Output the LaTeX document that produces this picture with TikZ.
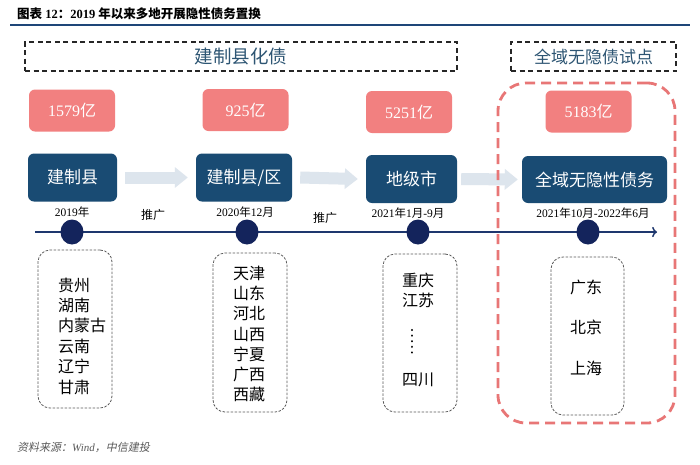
\documentclass[tikz,border=0pt]{standalone}
\usepackage{fontspec}
\setmainfont{Liberation Serif}
\newfontfamily\cjk{Noto Sans CJK SC}
\newfontfamily\cjkslant[FakeSlant=0.2]{Noto Sans CJK SC}
\usepackage{xcolor}
\usetikzlibrary{shapes.geometric,arrows.meta}

\definecolor{stageblue}{RGB}{25,75,115}
\definecolor{salmon}{RGB}{242,128,128}
\definecolor{pilotred}{RGB}{232,118,118}
\definecolor{dotnavy}{RGB}{20,36,92}
\definecolor{linenavy}{RGB}{30,55,110}
\definecolor{flowgray}{RGB}{221,229,237}
\definecolor{headblue}{RGB}{45,85,115}
\definecolor{rulenavy}{RGB}{30,70,120}

\newcommand{\zh}[1]{{\cjk #1}}
\newcommand{\fsz}[2]{\fontsize{#1}{#2}\selectfont}

\tikzset{
	heading/.style={draw=black!85, line width=1.2pt, dash pattern=on 5pt off 3.5pt, minimum height=29pt, text=headblue},
	amount/.style={fill=salmon, text=white, rounded corners=6pt, minimum width=86pt, minimum height=42pt, font=\fsz{16}{16}},
	stage/.style={fill=stageblue, text=white, rounded corners=6pt, minimum height=48pt, font=\cjk\fsz{17}{17}},
	flow/.style={flowgray, line width=12pt, -{Triangle[length=13pt,width=20pt]}},
	date/.style={font=\fsz{11.5}{11.5}},
	milestone/.style={ellipse, fill=dotnavy, minimum width=23pt, minimum height=25pt, inner sep=0pt},
	region/.style={draw=black!65, line width=0.8pt, dash pattern=on 2.5pt off 1.5pt, rounded corners=12pt},
	list/.style={align=left, inner sep=0pt, anchor=west},
	pilot/.style={draw=pilotred, line width=2.8pt, dash pattern=on 10pt off 6pt, rounded corners=28pt, minimum width=177pt, minimum height=340pt}
}

\begin{document}
\begin{tikzpicture}[x=1pt,y=-1pt]

		\useasboundingbox (0,0) rectangle (700,464);
		\fill[white] (0,0) rectangle (700,464);

		\node [anchor=west, inner sep=0pt, font=\bfseries\fsz{12.5}{12.5}] (title) at (17,14) {\zh{图表} 12\zh{：}2019 \zh{年以来多地开展隐性债务置换}};
		\coordinate (r0) at (10,25);
		\coordinate (r1) at (690,25);
		\draw [rulenavy, line width=2pt] (r0) -- (r1);

		\node [heading, minimum width=432pt, font=\cjk\fsz{18.5}{18.5}] (county) at (241,56.5) {建制县化债};
		\node [heading, minimum width=165pt, font=\cjk\fsz{17}{17}] (trial) at (593.5,56.5) {全域无隐债试点};

		\node [amount] (a1) at (72,110.5) {1579\zh{亿}};
		\node [amount] (a2) at (245.5,110) {925\zh{亿}};
		\node [amount] (a3) at (409,112) {5251\zh{亿}};
		\node [amount] (a4) at (588.5,111.5) {5183\zh{亿}};

		\node [stage, minimum width=89pt] (s1) at (72.5,177.5) {建制县};
		\node [stage, minimum width=96pt] (s2) at (244,177.5) {建制县/区};
		\node [stage, minimum width=91pt] (s3) at (411.5,179) {地级市};
		\node [stage, minimum width=145pt, minimum height=47pt] (s4) at (594.5,179.5) {全域无隐性债务};

		\draw [flow] ([xshift=8pt]s1.east) -- ([xshift=-8pt]s2.west);
		\draw [flow] ([xshift=8pt]s2.east) -- ([xshift=-8pt]s3.west);
		\draw [flow] ([xshift=4pt]s3.east) -- ([xshift=-4pt]s4.west);

		\node [date] (d1) at (72,212) {2019\zh{年}};
		\node [date] (d2) at (245,212) {2020\zh{年}12\zh{月}};
		\node [date] (d3) at (408,213) {2021\zh{年}1\zh{月}-9\zh{月}};
		\node [date] (d4) at (593,213) {2021\zh{年}10\zh{月}-2022\zh{年}6\zh{月}};

		\node [font=\cjk\fsz{12}{12}] (p1) at (153,215) {推广};
		\node [font=\cjk\fsz{12}{12}] (p2) at (325,218) {推广};

		\coordinate (t0) at (35,232);
		\coordinate (t1) at (657,232);
		\draw [->, linenavy, line width=1.5pt] (t0) -- (t1);

		\node [milestone] (m1) at (72,232) {};
		\node [milestone] (m2) at (247,232) {};
		\node [milestone] (m3) at (418,232) {};
		\node [milestone] (m4) at (588,232) {};

		\node [region, minimum width=74pt, minimum height=158pt] (g1) at (75,329) {};
		\node [region, minimum width=74pt, minimum height=159pt] (g2) at (250,332.5) {};
		\node [region, minimum width=74pt, minimum height=158pt] (g3) at (420,333) {};
		\node [region, minimum width=73pt, minimum height=158pt] (g4) at (587.5,336) {};

		\node [list, font=\cjk\fsz{16}{20.4}] (l1) at (58,336) {贵州\\湖南\\内蒙古\\云南\\辽宁\\甘肃};
		\node [list, font=\cjk\fsz{16}{20.3}] (l2) at (233,334) {天津\\山东\\河北\\山西\\宁夏\\广西\\西藏};
		\node [list, font=\cjk\fsz{16}{20}] (l3) at (402,290) {重庆\\江苏};
		\node [list, font=\cjk\fsz{16}{16}] (l4) at (402,380) {四川};
		\coordinate (v0) at (412,330);
		\coordinate (v1) at (412,358);
		\draw [line width=2.4pt, line cap=round, dash pattern=on 0.01pt off 5.6pt] (v0) -- (v1);
		\node [list, font=\cjk\fsz{16}{40.5}] (l5) at (570,327.5) {广东\\北京\\上海};

		\node [pilot] (pilot) at (586.5,253) {};

		\node [anchor=west, inner sep=0pt, text=black!65, font=\fsz{11}{11}] (source) at (17,447) {{\cjkslant 资料来源：}{\itshape Wind}{\cjkslant ，中信建投}};

\end{tikzpicture}
\end{document}
